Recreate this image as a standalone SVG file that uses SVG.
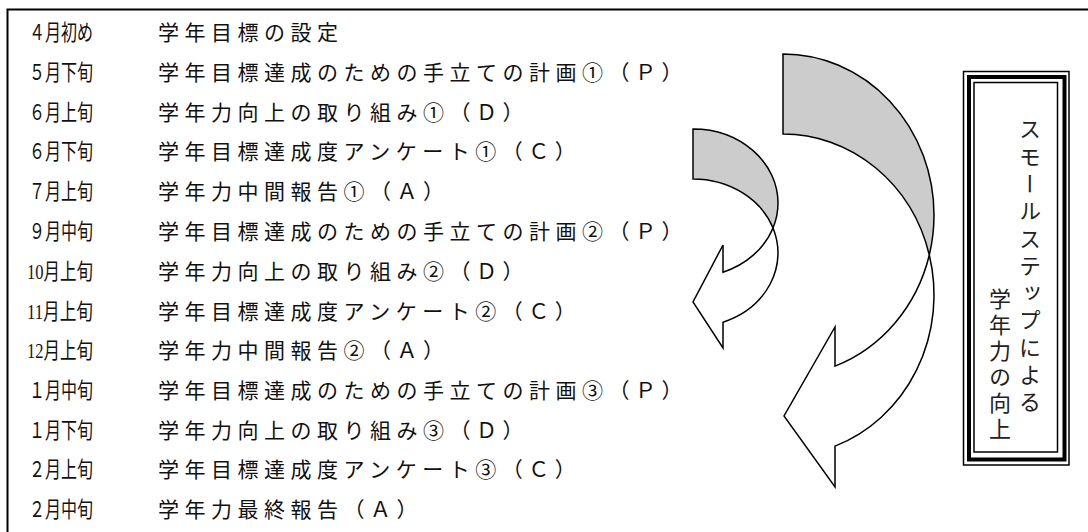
<svg xmlns="http://www.w3.org/2000/svg" width="1088" height="532" viewBox="0 0 1088 532">
<style>
.t{font-family:"Liberation Serif","Noto Sans CJK JP",serif;font-size:21px;fill:#111}
.m{font-family:"Liberation Serif","Noto Sans CJK JP",serif;font-size:22px;fill:#111}
.c{letter-spacing:5.5px}
.back{fill:#cccccc;stroke:#000;stroke-width:1.5;stroke-linejoin:miter}
.front{fill:#ffffff;stroke:#000;stroke-width:1.5;stroke-linejoin:miter}
.v{font-family:"Noto Sans CJK JP",sans-serif;font-size:22px;fill:#222;writing-mode:vertical-rl}
</style>
<rect x="7.5" y="9.5" width="1100" height="600" fill="#fff" stroke="#000" stroke-width="2"/>
<g id="schedule">
<text class="m" x="29" y="40" textLength="64" lengthAdjust="spacingAndGlyphs">４月初め</text><text class="t c" x="158" y="40">学年目標の設定</text>
<text class="m" x="29" y="80" textLength="64" lengthAdjust="spacingAndGlyphs">５月下旬</text><text class="t c" x="158" y="80">学年目標達成のための手立ての計画①（Ｐ）</text>
<text class="m" x="29" y="120" textLength="64" lengthAdjust="spacingAndGlyphs">６月上旬</text><text class="t c" x="158" y="120">学年力向上の取り組み①（Ｄ）</text>
<text class="m" x="29" y="159" textLength="64" lengthAdjust="spacingAndGlyphs">６月下旬</text><text class="t c" x="158" y="159">学年目標達成度アンケート①（Ｃ）</text>
<text class="m" x="29" y="199" textLength="64" lengthAdjust="spacingAndGlyphs">７月上旬</text><text class="t c" x="158" y="199">学年力中間報告①（Ａ）</text>
<text class="m" x="29" y="239" textLength="64" lengthAdjust="spacingAndGlyphs">９月中旬</text><text class="t c" x="158" y="239">学年目標達成のための手立ての計画②（Ｐ）</text>
<text class="m" x="27" y="279" textLength="66" lengthAdjust="spacingAndGlyphs">10月上旬</text><text class="t c" x="158" y="279">学年力向上の取り組み②（Ｄ）</text>
<text class="m" x="27" y="319" textLength="66" lengthAdjust="spacingAndGlyphs">11月上旬</text><text class="t c" x="158" y="319">学年目標達成度アンケート②（Ｃ）</text>
<text class="m" x="27" y="358" textLength="66" lengthAdjust="spacingAndGlyphs">12月上旬</text><text class="t c" x="158" y="358">学年力中間報告②（Ａ）</text>
<text class="m" x="29" y="398" textLength="64" lengthAdjust="spacingAndGlyphs">１月中旬</text><text class="t c" x="158" y="398">学年目標達成のための手立ての計画③（Ｐ）</text>
<text class="m" x="29" y="438" textLength="64" lengthAdjust="spacingAndGlyphs">１月下旬</text><text class="t c" x="158" y="438">学年力向上の取り組み③（Ｄ）</text>
<text class="m" x="29" y="477" textLength="64" lengthAdjust="spacingAndGlyphs">２月上旬</text><text class="t c" x="158" y="477">学年目標達成度アンケート③（Ｃ）</text>
<text class="m" x="29" y="517" textLength="64" lengthAdjust="spacingAndGlyphs">２月中旬</text><text class="t c" x="158" y="517">学年力最終報告（Ａ）</text>
</g>
<g id="small-arrow">
<path class="back" d="M693 129 A85 74 0 0 1 778 203 A85 74 0 0 1 773 228 A85 74 0 0 0 693 179 Z"/>
<path class="front" d="M773 228 A85 74 0 0 1 723 322.2 L723 348 L693 302 L723 245 L723 272.2 A85 74 0 0 0 773 228 Z"/>
</g>
<g id="big-arrow">
<path class="back" d="M783 54 A151 161 0 0 1 934 215 A151 161 0 0 1 929.3 255 A151 161 0 0 0 783 134 Z"/>
<path class="front" d="M929.3 255 A151 161 0 0 1 835 446.1 L835 487 L784 416 L835 327 L835 366.1 A151 161 0 0 0 929.3 255 Z"/>
</g>
<g id="title-box">
<rect x="963.5" y="71.5" width="105.5" height="393.5" fill="#fff" stroke="#000" stroke-width="1.5"/>
<rect x="969" y="77" width="95.5" height="382.5" fill="none" stroke="#000" stroke-width="4"/>
<rect x="974" y="82.5" width="83.5" height="369.5" fill="none" stroke="#000" stroke-width="1.5"/>
<text class="v" x="1030" y="118" style="letter-spacing:5.3px">スモールステップによる</text>
<text class="v" x="1000" y="288" style="letter-spacing:4px">学年力の向上</text>
</g>
</svg>
